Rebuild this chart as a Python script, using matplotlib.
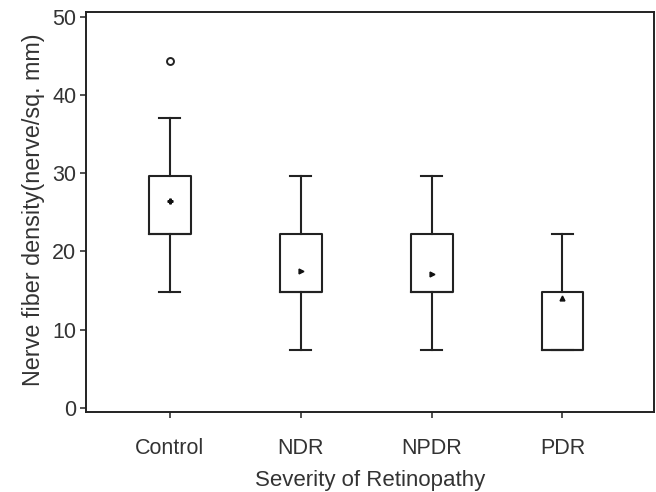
import matplotlib
matplotlib.use("Agg")
import matplotlib.pyplot as plt

categories = ["Control", "NDR", "NPDR", "PDR"]
whisker_low = [14.8, 7.4, 7.4, 7.4]
q1 = [22.2, 14.8, 14.8, 7.4]
median = [22.2, 14.8, 14.8, 7.4]
q3 = [29.6, 22.2, 22.2, 14.8]
whisker_high = [37.0, 29.6, 29.6, 22.2]
means = [26.4, 17.5, 17.1, 14.1]
mean_markers = ["P", ">", ">", "^"]
outliers = [[44.4], [], [], []]

plt.rcParams["font.family"] = ["Liberation Sans", "DejaVu Sans"]

fig = plt.figure(figsize=(6.56, 4.92), dpi=100)
ax = fig.add_axes([0.131, 0.163, 0.866, 0.813])

stats = []
for i, c in enumerate(categories):
    stats.append(dict(label=c, whislo=whisker_low[i], q1=q1[i], med=median[i],
                      q3=q3[i], whishi=whisker_high[i], fliers=outliers[i]))

positions = list(range(1, len(categories) + 1))
lw = 1.5
ax.bxp(stats, positions=positions, widths=0.32, showmeans=False,
       boxprops=dict(color="#222222", linewidth=lw),
       whiskerprops=dict(color="#222222", linewidth=lw),
       capprops=dict(color="#222222", linewidth=lw),
       medianprops=dict(color="#222222", linewidth=lw),
       flierprops=dict(marker="o", markersize=5, markerfacecolor="white",
                       markeredgecolor="#222222", markeredgewidth=1.4),
       capwidths=0.16)

for p, m, mk in zip(positions, means, mean_markers):
    ax.plot(p, m, marker=mk, markersize=3.5, color="#111111", linestyle="none")

ax.set_xlim(0.358, 4.70)
ax.set_ylim(-0.5, 50.64)
ax.set_yticks([0, 10, 20, 30, 40, 50])
ax.set_xticks(positions)
ax.set_xticklabels(categories)

for s in ax.spines.values():
    s.set_linewidth(1.4)
    s.set_color("#222222")

ax.tick_params(axis="both", direction="out", length=4, width=1.2,
               labelsize=15.5, colors="#333333")
ax.tick_params(axis="x", pad=15)
ax.tick_params(axis="y", pad=3)
ax.set_xlabel("Severity of Retinopathy", fontsize=16, color="#333333", labelpad=8)
ax.set_ylabel("Nerve fiber density(nerve/sq. mm)", fontsize=16.8, color="#333333")
ax.yaxis.set_label_coords(-0.072, 0.505)

fig.savefig("out.png", dpi=100)
